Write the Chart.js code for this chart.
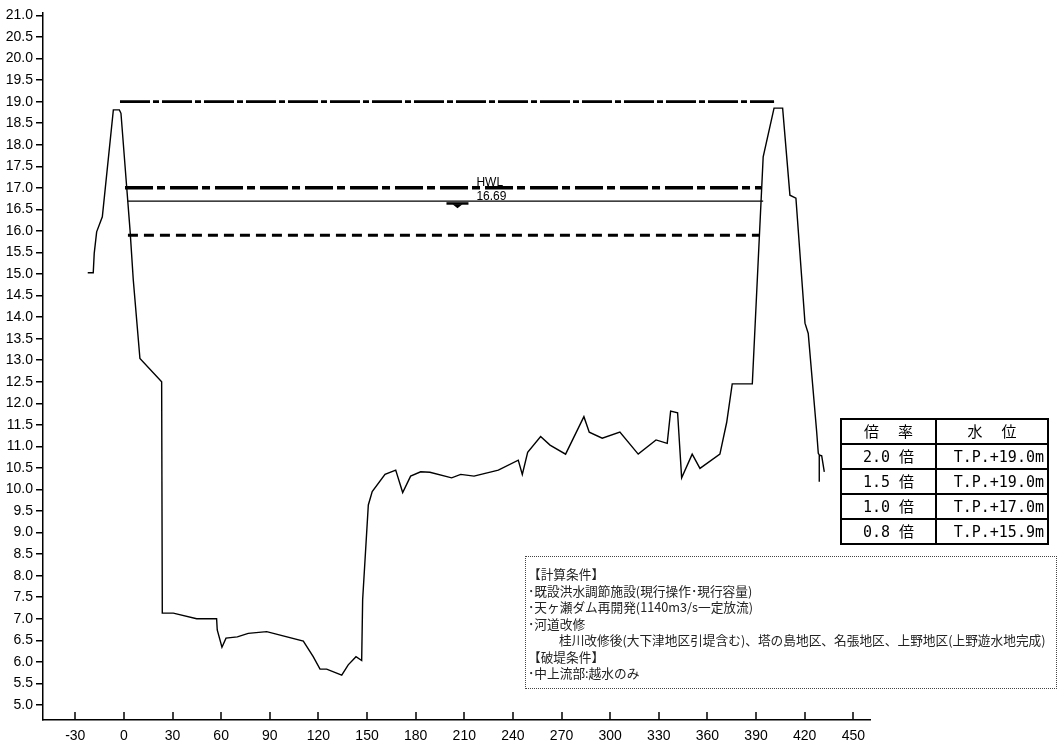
<!DOCTYPE html>
<html>
<head>
<meta charset="utf-8">
<script src="https://cdn.jsdelivr.net/npm/chart.js@4.4.0/dist/chart.umd.min.js"></script>
<style>
  body { margin: 0; background: #fff; }
  #wrap { position: relative; width: 1060px; height: 746px; overflow: hidden; }
  #chart { position: absolute; left: 0; top: 0; }
  #ratio-table {
    position: absolute; left: 840px; top: 418px; width: 209px; height: 127px;
    border-collapse: collapse; table-layout: fixed;
    font-family: "DejaVu Sans Mono", "Noto Sans CJK JP", monospace; font-size: 15px; color: #000;
  }
  #ratio-table td { border: 2px solid #000; padding: 0 3px; line-height: 20px; white-space: nowrap; }
  #ratio-table td.c1 { width: 85px; text-align: center; }
  #ratio-table td.c2 { text-align: right; }
  #ratio-table tr.head td { text-align: center; letter-spacing: 2px; padding-left: 5px; }
  #conditions {
    position: absolute; left: 525px; top: 556px; width: 532px; height: 133px; box-sizing: border-box;
    border: 1px dotted #444; padding: 9px 0 0 2px;
    font-family: "Noto Sans CJK JP", sans-serif; font-size: 12.7px; line-height: 16.5px; color: #222;
  }
  #conditions div { white-space: nowrap; }
  #conditions .indent { padding-left: 31px; }
</style>
</head>
<body>
<div id="wrap">
  <canvas id="chart" width="1060" height="746"></canvas>
  <table id="ratio-table"></table>
  <div id="conditions"></div>
</div>
<script>
// 横断面（距離 m, 標高 T.P.m）
const profileX = [-22.3, -18.9, -18.3, -16.8, -13.3, -6.5, -2.8, -1.8, 1.7, 3.8, 5.8, 9.9,
  23.3, 23.7, 30.5, 44.9, 57.2, 57.6, 60.5, 63.0, 70.0, 76.7, 88.1, 110.7, 116.8, 121.0,
  125.1, 134.4, 138.4, 143.2, 146.7, 147.3, 150.8, 153.2, 161.1, 167.7, 172.0, 176.9, 183.1,
  188.8, 202.2, 207.8, 216.0, 231.0, 243.3, 245.8, 249.1, 257.1, 262.9, 272.5, 283.8, 287.1,
  295.1, 306.0, 317.3, 328.3, 335.2, 337.3, 341.6, 344.1, 350.6, 355.4, 367.7, 371.9, 375.3,
  387.7, 394.4, 401.1, 406.4, 410.9, 414.6, 420.2, 422.2, 427.4, 428.4, 429.0, 429.0, 429.0,
  430.5, 432.1];
const profileY = [15.03, 15.03, 15.48, 15.98, 16.33, 18.81, 18.81, 18.73, 17.03, 16.02, 14.86, 13.04,
  12.50, 7.13, 7.13, 7.00, 7.00, 6.74, 6.34, 6.55, 6.58, 6.66, 6.70, 6.48, 6.12, 5.83,
  5.83, 5.69, 5.93, 6.12, 6.03, 7.44, 9.64, 9.95, 10.35, 10.45, 9.93, 10.31, 10.41,
  10.40, 10.27, 10.35, 10.31, 10.45, 10.68, 10.35, 10.86, 11.23, 11.03, 10.82, 11.69, 11.33,
  11.19, 11.33, 10.82, 11.15, 11.07, 11.82, 11.78, 10.27, 10.82, 10.49, 10.82, 11.56, 12.45,
  12.45, 17.72, 18.85, 18.85, 16.83, 16.76, 13.86, 13.62, 11.34, 10.84, 10.80, 10.18, 10.80,
  10.78, 10.41];

// 倍率ごとの水位
const ratioLabels = ["2.0", "1.5", "1.0", "0.8"];
const ratioLevels = [19.0, 19.0, 17.0, 15.9];
const ratioStart = [-2.4, -2.4, 0.7, 2.5];
const ratioEnd = [401.1, 401.1, 393.1, 392.4];

// HWL
const hwlLevel = 16.69;
const hwlStart = 2.3;
const hwlEnd = 394.4;
const hwlMarkX = 205.8;
const hwlLabelX = 217.5;

const xTicks = [-30, 0, 30, 60, 90, 120, 150, 180, 210, 240, 270, 300, 330, 360, 390, 420, 450];
const yTicks = [5.0, 5.5, 6.0, 6.5, 7.0, 7.5, 8.0, 8.5, 9.0, 9.5, 10.0, 10.5, 11.0, 11.5, 12.0,
  12.5, 13.0, 13.5, 14.0, 14.5, 15.0, 15.5, 16.0, 16.5, 17.0, 17.5, 18.0, 18.5, 19.0, 19.5,
  20.0, 20.5, 21.0];

const conditions = [
  ["【計算条件】", false],
  ["･既設洪水調節施設(現行操作･現行容量)", false],
  ["･天ヶ瀬ダム再開発(1140m3/s一定放流)", false],
  ["･河道改修", false],
  ["桂川改修後(大下津地区引堤含む)、塔の島地区、名張地区、上野地区(上野遊水地完成)", true],
  ["【破堤条件】", false],
  ["･中上流部:越水のみ", false]
];

// 線の見た目
const levelDash = [[30, 3, 6, 3], [30, 3, 6, 3], [28, 4, 8, 5], [10, 6]];
const levelWidth = [2.5, 2.5, 3.5, 3];

// 表
const tbl = document.getElementById("ratio-table");
let rows = '<tr class="head"><td class="c1">倍　率</td><td class="c2">水　位</td></tr>';
ratioLabels.forEach((r, i) => {
  rows += '<tr><td class="c1">' + r + ' 倍</td><td class="c2">T.P.+' + ratioLevels[i].toFixed(1) + 'm</td></tr>';
});
tbl.innerHTML = rows;

// 条件
const cond = document.getElementById("conditions");
conditions.forEach(c => {
  const d = document.createElement("div");
  d.textContent = c[0];
  if (c[1]) d.className = "indent";
  cond.appendChild(d);
});

const datasets = [{
  data: profileX.map((x, i) => ({ x: x, y: profileY[i] })),
  borderColor: "#000",
  borderWidth: 1.4,
  showLine: true,
  pointRadius: 0,
  tension: 0
}];
ratioLevels.forEach((lv, i) => {
  datasets.push({
    data: [{ x: ratioStart[i], y: lv }, { x: ratioEnd[i], y: lv }],
    borderColor: "#000",
    borderWidth: levelWidth[i],
    borderDash: levelDash[i],
    borderCapStyle: "butt",
    showLine: true,
    pointRadius: 0
  });
});
datasets.push({
  data: [{ x: hwlStart, y: hwlLevel }, { x: hwlEnd, y: hwlLevel }],
  borderColor: "#000",
  borderWidth: 1.2,
  showLine: true,
  pointRadius: 0
});

// x軸の内向き目盛り・HWL記号
const extras = {
  id: "extras",
  afterDraw(chart) {
    const ctx = chart.ctx;
    const x = chart.scales.x, y = chart.scales.y;
    const bottom = chart.chartArea.bottom;
    ctx.save();
    ctx.strokeStyle = "#000";
    ctx.lineWidth = 1.5;
    xTicks.forEach(v => {
      const px = Math.round(x.getPixelForValue(v));
      ctx.beginPath();
      ctx.moveTo(px, bottom);
      ctx.lineTo(px, bottom - 8);
      ctx.stroke();
    });
    const mx = x.getPixelForValue(hwlMarkX);
    const my = y.getPixelForValue(hwlLevel);
    ctx.fillStyle = "#000";
    ctx.fillRect(mx - 11, my + 1, 22, 2.5);
    ctx.beginPath();
    ctx.moveTo(mx - 5, my + 3);
    ctx.lineTo(mx + 5, my + 3);
    ctx.lineTo(mx, my + 7);
    ctx.closePath();
    ctx.fill();
    ctx.font = '12px "Liberation Sans"';
    ctx.textAlign = "left";
    ctx.textBaseline = "alphabetic";
    const lx = x.getPixelForValue(hwlLabelX);
    ctx.fillText("HWL", lx, y.getPixelForValue(17.0) - 1.5);
    ctx.fillText(hwlLevel.toFixed(2), lx, my - 1.5);
    ctx.restore();
  }
};

new Chart(document.getElementById("chart"), {
  type: "scatter",
  data: { datasets: datasets },
  options: {
    responsive: false,
    animation: false,
    devicePixelRatio: 1,
    layout: { padding: { left: 0, top: 13, right: 190, bottom: 0 } },
    plugins: { legend: { display: false }, tooltip: { enabled: false } },
    scales: {
      x: {
        type: "linear",
        min: -49.9,
        max: 460.3,
        afterBuildTicks: s => { s.ticks = xTicks.map(v => ({ value: v })); },
        afterFit: s => { s.height = 26; },
        ticks: {
          autoSkip: false, maxRotation: 0, padding: 8, color: "#000",
          font: { family: "Liberation Sans", size: 14 },
          callback: v => v
        },
        grid: { display: false, drawTicks: false },
        border: { display: true, color: "#000", width: 1.5 }
      },
      y: {
        type: "linear",
        min: 4.65,
        max: 21.058,
        afterBuildTicks: s => { s.ticks = yTicks.map(v => ({ value: v })); },
        afterFit: s => { s.width = 43; },
        ticks: {
          autoSkip: false, padding: 3, color: "#000",
          font: { family: "Liberation Sans", size: 14 },
          callback: v => v.toFixed(1)
        },
        grid: { drawOnChartArea: false, drawTicks: true, tickLength: 7, color: "#000", lineWidth: 1.5 },
        border: { display: true, color: "#000", width: 1.5 }
      }
    }
  },
  plugins: [extras]
});
</script>
</body>
</html>
